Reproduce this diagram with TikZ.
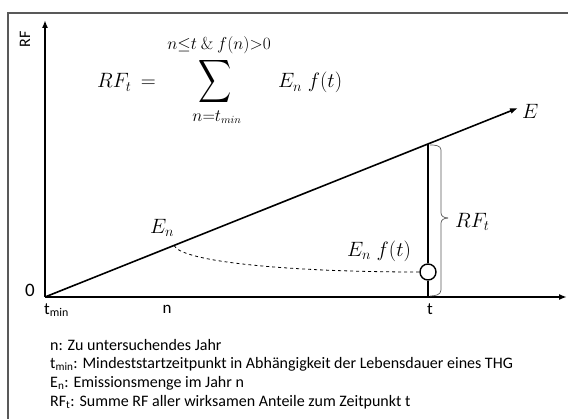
\documentclass[tikz,border=0pt]{standalone}
\usepackage{amsmath}
\usepackage[no-math]{fontspec}
\setmainfont{Carlito}
\usetikzlibrary{arrows.meta}
\begin{document}
\begin{tikzpicture}[x=1pt,y=-1pt,
  axis/.style={line width=1.6pt,-{Latex[length=8pt,width=6pt]}},
  lbl/.style={font=\fontsize{17}{20}\selectfont, inner sep=0},
  mth/.style={font=\fontsize{21}{24}\selectfont, inner sep=0},
  lim/.style={font=\fontsize{16}{18}\selectfont, inner sep=0},
  legend/.style={font=\fontsize{16}{19}\selectfont, anchor=west, inner sep=0},
  bracestyle/.style={draw=gray!70!black, line width=0.7pt}]
\useasboundingbox (0,0) rectangle (568,419);
% frame
\draw[gray!70!black, line width=1.2pt] (8,419) -- (8,13) -- (568,13);
% coordinates
\coordinate (O) at (45,297);
\coordinate (ytip) at (45,20);
\coordinate (xtip) at (567,297);
\coordinate (Etip) at (518,108);
\coordinate (T) at (428,297);
\coordinate (Ttop) at (428,144);
\coordinate (En) at (174,245.5);
% axes
\draw[axis] (O) -- (ytip);
\draw[axis] (O) -- (xtip);
\draw[axis] (O) -- (Etip);
% vertical at t with circle
\node[circle, draw, line width=1.4pt, minimum size=16pt, inner sep=0, fill=white] (C) at (428,272) {};
\draw[line width=1.6pt] (Ttop) -- (C.north);
\draw[line width=1.6pt] (C.south) -- (T);
% dashed decay curve
\draw[dashed, line width=0.8pt] (En) .. controls (182,262) and (290,272) .. (C.west);
% brace
\coordinate (Btop) at (430,145);
\coordinate (Bbot) at (430,296);
\coordinate (Btip) at (448,218);
\draw[bracestyle] (Btop) to[out=0,in=90] (441,150) -- (441,213) to[out=-90,in=180] (Btip);
\draw[bracestyle] (Btip) to[out=180,in=90] (441,223) -- (441,290) to[out=-90,in=0] (Bbot);
% labels on axes
\node[lbl, font=\fontsize{16}{19}\selectfont, rotate=90] (rfaxis) at (25,39) {RF};
\node[lbl, font=\fontsize{19}{22}\selectfont] (zero) at (30,290) {0};
\node[lbl, anchor=west] (tmin) at (44,310) {t\textsubscript{min}};
\node[lbl] (nlab) at (167,309) {n};
\node[lbl] (tlab) at (430,309) {t};
% math labels
\node[mth, anchor=west] (Elab) at (522,111) {$E$};
\node[mth] (Enlab) at (162,228) {$E_n$};
\node[mth] (Enft) at (379,251) {$E_n\;f(t)$};
\node[mth, anchor=west] (RFt) at (455,222) {$RF_t$};
% formula
\node[mth, anchor=base west] (rf) at (97,88) {$RF_t\,=$};
\node[inner sep=0, xscale=2.3, yscale=3] (sum) at (215,82) {$\displaystyle\sum$};
\node[lim] (toplim) at (219,45) {$n{\le}t\mathbin{\&}f(n){>}0$};
\node[lim] (botlim) at (217,117) {$n{=}t_{min}$};
\node[mth, anchor=base west] (summand) at (278,88) {$E_n\;f(t)$};
% legend
\node[legend] (l1) at (50,345) {n: Zu untersuchendes Jahr};
\node[legend] (l2) at (50,364) {t\textsubscript{min}: Mindeststartzeitpunkt in Abhängigkeit der Lebensdauer eines THG};
\node[legend] (l3) at (50,383) {E\textsubscript{n}: Emissionsmenge im Jahr n};
\node[legend] (l4) at (50,402) {RF\textsubscript{t}: Summe RF aller wirksamen Anteile zum Zeitpunkt t};
\end{tikzpicture}
\end{document}
